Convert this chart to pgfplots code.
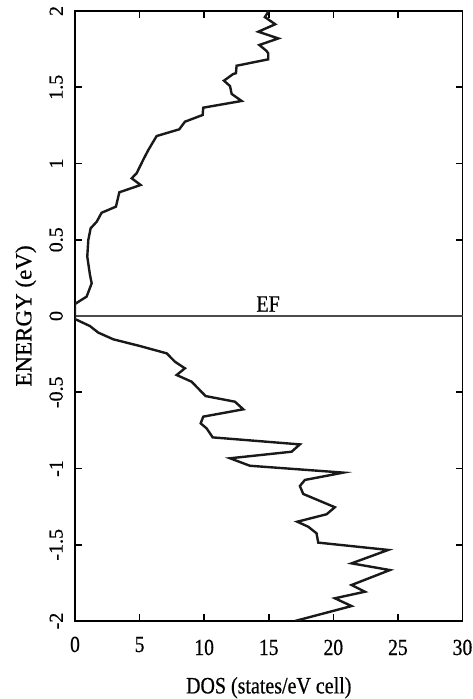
\documentclass[border=0pt]{standalone}
\usepackage{fontspec}
\setmainfont{Liberation Serif}[FakeBold=0.6]
\newfontfamily\hfont[FakeStretch=0.85,FakeBold=0.6]{Liberation Serif}
\usepackage{pgfplots}
\pgfplotsset{compat=1.18}
\begin{document}
\begin{tikzpicture}
\begin{axis}[name=ax, scale only axis, width=193.75pt, height=305pt,
 xmin=0, xmax=30, ymin=-2, ymax=2,
 xtick={0,5,10,15,20,25,30},
 xticklabels={\raisebox{1.5pt}{0},\raisebox{1.5pt}{5},10,15,20,25,30},
 ytick={-2,-1.5,-1,-0.5,0,0.5,1,1.5,2},
 yticklabels={-2,-1.5,-1,-0.5,0,0.5,1,1.5,2},
 tick align=inside, major tick length=3.5pt,
 axis line style={line width=0.9pt},
 every tick/.style={black, line width=0.8pt},
 xticklabel style={font=\hfont\fontsize{11.5}{12}\selectfont, anchor=base, yshift=-17pt},
 yticklabel style={font=\fontsize{10}{11}\selectfont, rotate=90, anchor=south, inner ysep=5.85pt, inner xsep=1pt},
 every axis x label/.style={at={(axis description cs:0.5,0)}, anchor=base, yshift=-36.2pt, font=\hfont\fontsize{11.75}{14}\selectfont},
 every axis y label/.style={at={(axis description cs:0,0.5)}, rotate=90, anchor=south, inner ysep=19.2pt, font=\fontsize{11.5}{14}\selectfont},
 xlabel={DOS (states/eV cell)},
 ylabel={ENERGY (eV)},
]
\addplot[gray!60!black, line width=0.6pt] coordinates {(0,0) (30,0)};
\addplot[black!90, line width=1.2pt, line join=miter] coordinates {
(15.0,2.0) (14.7,1.96) (15.5,1.913) (14.19,1.864) (15.74,1.82) (14.27,1.777)
(14.83,1.738) (14.96,1.722) (14.96,1.683) (12.51,1.641) (12.46,1.592) (12.25,1.587)
(11.53,1.543) (12.0,1.508) (12.13,1.456) (12.9,1.41) (9.93,1.366) (9.88,1.318)
(8.51,1.274) (8.07,1.224) (6.32,1.18) (5.68,1.089) (5.34,1.034) (4.77,0.936)
(4.39,0.903) (5.08,0.859) (3.43,0.811) (3.17,0.717) (2.06,0.677) (1.68,0.618)
(1.21,0.575) (1.03,0.498) (0.95,0.389) (1.16,0.269) (1.29,0.214) (0.9,0.127)
(0,0.079) (0,-0.02) (1.16,-0.066) (1.8,-0.109) (2.97,-0.153) (5.03,-0.197)
(7.1,-0.245) (7.74,-0.3) (8.51,-0.343) (7.87,-0.387) (9.03,-0.431) (10.11,-0.525)
(12.38,-0.562) (13.03,-0.612) (9.93,-0.66) (9.73,-0.704) (10.19,-0.737) (10.66,-0.796)
(17.41,-0.842) (16.77,-0.89) (12.0,-0.933) (13.54,-0.982) (20.77,-1.027) (17.8,-1.075)
(17.41,-1.115) (17.67,-1.167) (20.12,-1.254) (19.48,-1.3) (17.21,-1.349) (18.06,-1.382)
(18.7,-1.425) (18.83,-1.486) (24.25,-1.534) (21.41,-1.622) (24.38,-1.666) (21.41,-1.764)
(22.45,-1.808) (20.12,-1.851) (21.41,-1.902) (17.03,-2.0)
};
\node[anchor=base, font=\hfont\fontsize{11.75}{14}\selectfont] at (axis cs:14.95,0.028) {EF};
\end{axis}
\pgfresetboundingbox
\path ([shift={(-37.5pt,-39pt)}]ax.south west) rectangle ([shift={(5.25pt,5.5pt)}]ax.north east);
\end{tikzpicture}
\end{document}
